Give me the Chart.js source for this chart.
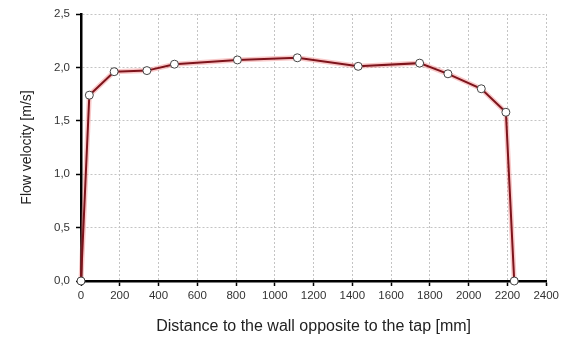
<!DOCTYPE html>
<html>
<head>
<meta charset="utf-8">
<script src="https://cdn.jsdelivr.net/npm/chart.js@4/dist/chart.umd.min.js"></script>
<style>
html,body{margin:0;padding:0;background:#fff;}
#wrap{width:562px;height:338px;position:relative;}
</style>
</head>
<body>
<div id="wrap"><canvas id="c" width="562" height="338"></canvas></div>
<script>
const distances = [0, 43, 171, 340, 482, 807, 1116, 1430, 1747, 1893, 2065, 2192, 2235];
const velocities = [0, 1.74, 1.96, 1.97, 2.03, 2.07, 2.09, 2.01, 2.04, 1.94, 1.80, 1.58, 0];
const xTitle = 'Distance to the wall opposite to the tap [mm]';
const yTitle = 'Flow velocity [m/s]';

const pts = distances.map((d, i) => ({x: d, y: velocities[i]}));

new Chart(document.getElementById('c'), {
  type: 'scatter',
  data: {
    datasets: [
      {
        data: pts, showLine: true, borderColor: '#7e141c', borderWidth: 2,
        pointRadius: 4, pointBackgroundColor: '#ffffff', pointBorderColor: '#444444',
        pointBorderWidth: 1, tension: 0, clip: false, order: 1
      },
      {
        data: pts, showLine: true, borderColor: 'rgba(240,120,120,0.4)', borderWidth: 5,
        pointRadius: 0, pointHoverRadius: 0, tension: 0, clip: false, order: 2
      }
    ]
  },
  options: {
    responsive: false,
    animation: false,
    events: [],
    layout: {padding: {top: 14, right: 15, left: 0, bottom: 0}},
    plugins: {legend: {display: false}, tooltip: {enabled: false}},
    scales: {
      x: {
        type: 'linear', min: 0, max: 2400,
        afterFit: s => { s.height = 57; },
        ticks: {stepSize: 200, color: '#333', font: {family: 'Liberation Sans', size: 11.5}, padding: 3, maxRotation: 0, autoSkip: false,
          callback: v => String(v)},
        grid: {color: '#c4c4c4', tickLength: 5, tickColor: '#000', tickBorderDash: [], tickWidth: 1.5, lineWidth: 1},
        border: {color: '#000', width: 2.5, dash: [2, 2]},
        title: {display: true, text: xTitle, color: '#222', font: {family: 'Liberation Sans', size: 16}, padding: {top: 0, bottom: 2}}
      },
      y: {
        type: 'linear', min: 0, max: 2.5,
        afterFit: s => { s.width = 81; },
        ticks: {stepSize: 0.5, color: '#333', font: {family: 'Liberation Sans', size: 11.5}, padding: 6,
          callback: v => v.toFixed(1).replace('.', ',')},
        grid: {color: '#c4c4c4', tickLength: 5, tickColor: '#000', tickBorderDash: [], tickWidth: 1.5, lineWidth: 1},
        border: {color: '#000', width: 2.5, dash: [2, 2]},
        title: {display: true, text: yTitle, color: '#222', font: {family: 'Liberation Sans', size: 14}, padding: {top: 19, bottom: 0}}
      }
    }
  }
});
</script>
</body>
</html>
